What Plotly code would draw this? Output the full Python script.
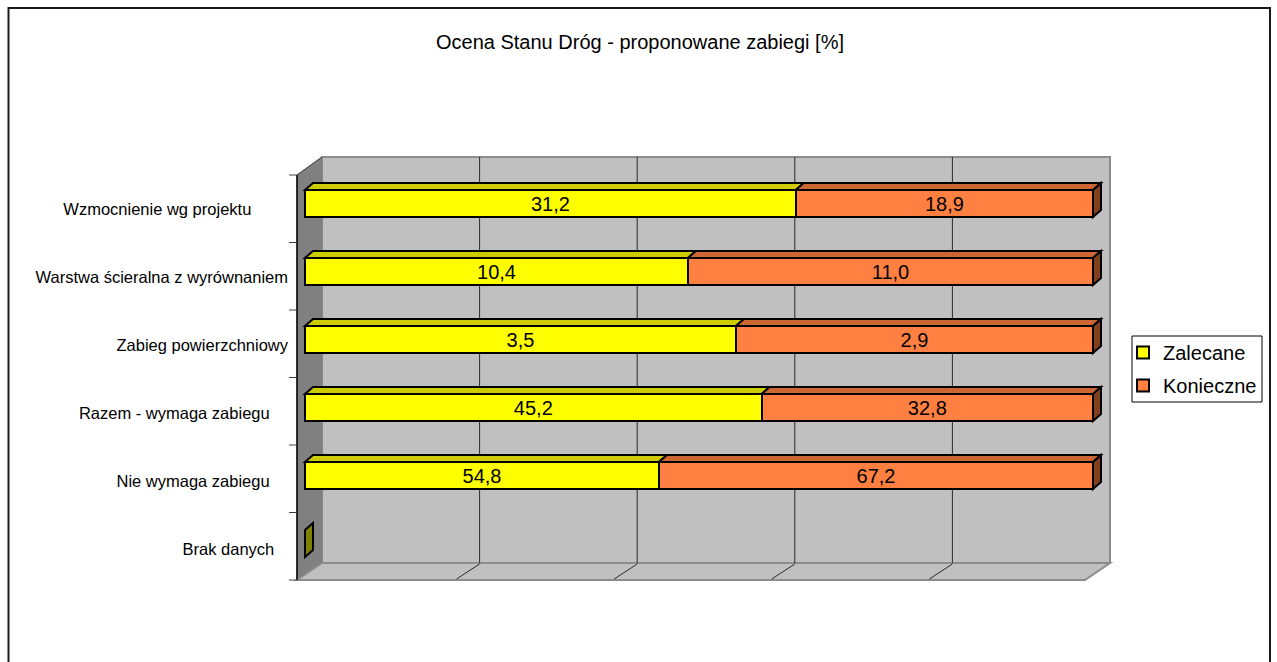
import plotly.graph_objects as go

# ---------------- data ----------------
categories = [
    "Wzmocnienie wg projektu",
    "Warstwa ścieralna z wyrównaniem",
    "Zabieg powierzchniowy",
    "Razem - wymaga zabiegu",
    "Nie wymaga zabiegu",
    "Brak danych",
]
zalecane = [31.2, 10.4, 3.5, 45.2, 54.8, 0.0]
konieczne = [18.9, 11.0, 2.9, 32.8, 67.2, 0.0]
series_names = ["Zalecane", "Konieczne"]
title_text = "Ocena Stanu Dróg - proponowane zabiegi [%]"

# ---------------- style ----------------
FONT = "Arial, Liberation Sans, sans-serif"
front_colors = ["#FFFF00", "#FF8040"]
top_colors = ["#CCCC00", "#CC6633"]
side_colors = ["#808000", "#80401F"]
label_pad = [8, 0, 0, 4, 4, 3]  # trailing spaces as in source labels

W, H = 1277, 662
# plot box in pixels (whole 3D box)
L, R, T, B = 297, 1110, 157, 580
X0_PX, X100_PX = 305, 1093       # front face 0..100 %
PX_PER_PCT = (X100_PX - X0_PX) / 100.0
CAT_PX = 68.0
CAT0_PX = 203.5
BAR_W = 0.4
DXP, DYP = 8, 7                  # depth offset of bars (px)
DX = DXP / PX_PER_PCT
DY = DYP / CAT_PX

x_range = [(L - X0_PX) / PX_PER_PCT, 100 + (R - X100_PX) / PX_PER_PCT]
y_range = [(B - CAT0_PX) / CAT_PX, (T - CAT0_PX) / CAT_PX]


def px(p):
    return (p - L) / (R - L)


def py(p):
    return (B - p) / (B - T)


def fmt(v):
    return "" if v == 0 else f"{v:.1f}".replace(".", ",")


fig = go.Figure()
for name, vals, col in zip(series_names, [zalecane, konieczne], front_colors):
    fig.add_trace(go.Bar(
        y=categories, x=vals, orientation="h", name=name, legendgroup=name,
        width=BAR_W,
        marker=dict(color=col, line=dict(color="black", width=2)),
        text=[fmt(v) for v in vals], textposition="inside",
        insidetextanchor="middle", constraintext="none",
        textfont=dict(family=FONT, size=20, color="black"),
        hoverinfo="skip",
    ))

shapes = []

# ---- walls (paper coords) ----
wall_line = dict(color="#8C8C8C", width=2)
shapes.append(dict(type="rect", xref="paper", yref="paper", layer="below",
                   x0=px(322), x1=px(1110), y0=py(563), y1=py(157),
                   fillcolor="#C0C0C0", line=wall_line))
shapes.append(dict(type="path", xref="paper", yref="paper", layer="below",
                   path=f"M{px(297)},{py(175)} L{px(322)},{py(157)} L{px(322)},{py(563)} L{px(297)},{py(580)} Z",
                   fillcolor="#808080", line=dict(color="#808080", width=1)))
shapes.append(dict(type="path", xref="paper", yref="paper", layer="below",
                   path=f"M{px(297)},{py(580)} L{px(322)},{py(563)} L{px(1110)},{py(563)} L{px(1085)},{py(580)} Z",
                   fillcolor="#C0C0C0", line=wall_line))
for k in range(1, 5):
    gx = 322 + k * (1110 - 322) / 5
    shapes.append(dict(type="line", xref="paper", yref="paper", layer="below",
                       x0=px(gx), x1=px(gx), y0=py(157), y1=py(563),
                       line=dict(color="#2a2a2a", width=1)))
    shapes.append(dict(type="line", xref="paper", yref="paper", layer="below",
                       x0=px(gx), x1=px(gx - 23), y0=py(564), y1=py(579),
                       line=dict(color="#2a2a2a", width=1)))
shapes.append(dict(type="line", xref="paper", yref="paper",
                   x0=px(297), x1=px(322), y0=py(175), y1=py(157),
                   line=dict(color="#404040", width=1)))
shapes.append(dict(type="line", xref="paper", yref="paper",
                   x0=px(297), x1=px(297), y0=py(175), y1=py(580),
                   line=dict(color="#000000", width=1.5)))
for k in range(len(categories) + 1):
    ty = 175 + k * (580 - 175) / len(categories)
    shapes.append(dict(type="line", xref="paper", yref="paper",
                       x0=px(289), x1=px(297), y0=py(ty), y1=py(ty),
                       line=dict(color="#404040", width=1)))

# ---- 3D faces of bars (data coords) ----
edge = dict(color="black", width=2)
for i, cat in enumerate(categories):
    vals = [zalecane[i], konieczne[i]]
    tot = sum(vals)
    yt = i - BAR_W / 2
    yb = i + BAR_W / 2
    if tot <= 0:
        x1 = 0.0
        shapes.append(dict(type="path", xref="x", yref="y",
                           path=f"M{x1},{yt} L{x1 + DX},{yt - DY} L{x1 + DX},{yb - DY} L{x1},{yb} Z",
                           fillcolor=side_colors[0], line=edge))
        continue
    cum = 0.0
    last = max(j for j, v in enumerate(vals) if v > 0)
    for j, v in enumerate(vals):
        if v <= 0:
            continue
        a = cum / tot * 100
        cum += v
        b = cum / tot * 100
        shapes.append(dict(type="path", xref="x", yref="y",
                           path=f"M{a},{yt} L{a + DX},{yt - DY} L{b + DX},{yt - DY} L{b},{yt} Z",
                           fillcolor=top_colors[j], line=edge))
        if j == last:
            shapes.append(dict(type="path", xref="x", yref="y",
                               path=f"M{b},{yt} L{b + DX},{yt - DY} L{b + DX},{yb - DY} L{b},{yb} Z",
                               fillcolor=side_colors[j], line=edge))

# legend frame
shapes.append(dict(type="rect", xref="paper", yref="paper",
                   x0=px(1132), x1=px(1262), y0=py(402), y1=py(336),
                   fillcolor="white", line=dict(color="#000000", width=1)))
# outer chart border
shapes.append(dict(type="rect", xref="paper", yref="paper",
                   x0=px(8.5), x1=px(1270), y0=py(668), y1=py(8),
                   fillcolor="rgba(0,0,0,0)", line=dict(color="#1a1a1a", width=2)))

fig.update_layout(
    width=W, height=H,
    margin=dict(l=L, r=W - R, t=T, b=H - B, pad=0),
    paper_bgcolor="white", plot_bgcolor="rgba(0,0,0,0)",
    barmode="stack", barnorm="percent",
    font=dict(family=FONT, color="black"),
    title=dict(text=title_text, x=640 / W, xanchor="center",
               y=1 - 42 / H, yanchor="middle",
               font=dict(family=FONT, size=20, color="black")),
    xaxis=dict(range=x_range, showgrid=False, zeroline=False, showticklabels=False,
               showline=False, ticks="", fixedrange=True),
    yaxis=dict(type="category", range=y_range, showgrid=False, zeroline=False,
               showline=False, ticks="", fixedrange=True,
               tickmode="array", tickvals=categories,
               ticktext=[c + "\u00a0" * p for c, p in zip(categories, label_pad)],
               tickfont=dict(family=FONT, size=16.5, color="black"),
               ticklabelstandoff=8, ticklabelshift=-6),
    legend=dict(x=px(1123), y=py(333), xanchor="left", yanchor="top",
                bgcolor="rgba(0,0,0,0)", borderwidth=0,
                font=dict(family=FONT, size=20, color="black"),
                itemwidth=30, traceorder="grouped", tracegroupgap=4),
    shapes=shapes,
    showlegend=True,
)

fig.write_html("out.html", config={"displayModeBar": False},
               post_script="document.body.style.margin='0px';document.body.style.overflow='hidden';")
